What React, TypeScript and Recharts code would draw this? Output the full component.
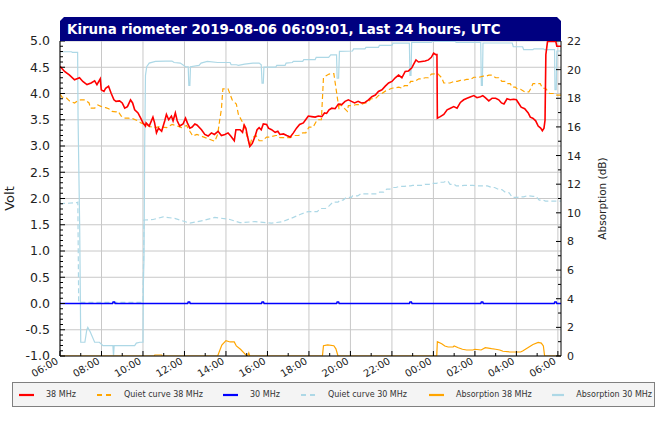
import React from "react";
import { LineChart, Line, XAxis, YAxis, CartesianGrid, Legend } from "recharts";

type Pt = [number, number];

// time axis: hours after 2019-08-05 06:00 UTC, plot ends at 06:09 next day
const hourTicks = Array.from({ length: 25 }, (_, i) => i);
const labeledHours = [0, 2, 4, 6, 8, 10, 12, 14, 16, 18, 20, 22, 24];
const hourLabels = ["06:00", "08:00", "10:00", "12:00", "14:00", "16:00", "18:00", "20:00", "22:00", "00:00", "02:00", "04:00", "06:00"];
const voltGrid = [-1, -0.5, 0, 0.5, 1, 1.5, 2, 2.5, 3, 3.5, 4, 4.5, 5];
const voltTicks = Array.from({ length: 61 }, (_, i) => Math.round((-1 + i * 0.1) * 10) / 10);
const dbTicks = Array.from({ length: 23 }, (_, i) => i);

// 38 MHz signal (Volt)
const mhz38: Pt[] = [
  [0, 4.52], [0.22, 4.42], [0.46, 4.35], [0.7, 4.26], [0.94, 4.3], [1.1, 4.23], [1.3, 4.17], [1.5, 4.2], [1.67, 4.24],
  [1.78, 4.17], [1.94, 4.28], [1.99, 4.07], [2.12, 4.04], [2.2, 4.1], [2.34, 4.14], [2.47, 4.0], [2.6, 3.88], [2.7, 3.85],
  [2.87, 3.86], [3.0, 3.82], [3.12, 3.72], [3.25, 3.75], [3.4, 3.88], [3.5, 3.82], [3.6, 3.69], [3.76, 3.63], [3.89, 3.53],
  [4.0, 3.44], [4.12, 3.38], [4.15, 3.44], [4.3, 3.38], [4.48, 3.55], [4.56, 3.44], [4.65, 3.25], [4.75, 3.34], [4.9, 3.28],
  [5.05, 3.48], [5.13, 3.6], [5.24, 3.5], [5.37, 3.57], [5.45, 3.48], [5.56, 3.63], [5.65, 3.48], [5.77, 3.38], [5.93, 3.42],
  [6.05, 3.53], [6.14, 3.44], [6.26, 3.34], [6.37, 3.36], [6.5, 3.42], [6.6, 3.4], [6.82, 3.31], [6.98, 3.22], [7.14, 3.19],
  [7.3, 3.25], [7.44, 3.22], [7.62, 3.28], [7.78, 3.2], [7.95, 3.22], [8.1, 3.25], [8.23, 3.19], [8.4, 3.1], [8.48, 3.31],
  [8.68, 3.31], [8.8, 3.26], [8.88, 3.4], [8.96, 3.34], [9.04, 3.18], [9.15, 2.99], [9.27, 3.05], [9.4, 3.18], [9.5, 3.31],
  [9.6, 3.35], [9.7, 3.31], [9.8, 3.42], [9.96, 3.41], [10.05, 3.34], [10.2, 3.31], [10.37, 3.26], [10.5, 3.28], [10.6, 3.22],
  [10.77, 3.23], [10.93, 3.2], [11.1, 3.17], [11.25, 3.25], [11.4, 3.34], [11.55, 3.41], [11.73, 3.44], [11.84, 3.5],
  [11.97, 3.57], [12.13, 3.56], [12.3, 3.55], [12.45, 3.57], [12.62, 3.56], [12.75, 3.63], [12.85, 3.62], [12.97, 3.69],
  [13.1, 3.72], [13.26, 3.71], [13.42, 3.8], [13.58, 3.79], [13.74, 3.85], [13.9, 3.88], [14.05, 3.85], [14.2, 3.82],
  [14.37, 3.85], [14.53, 3.82], [14.7, 3.83], [14.87, 3.88], [15.03, 3.94], [15.2, 3.97], [15.35, 4.04], [15.52, 4.07],
  [15.68, 4.14], [15.84, 4.2], [16.0, 4.23], [16.16, 4.3], [16.32, 4.35], [16.48, 4.3], [16.64, 4.42], [16.8, 4.43],
  [16.96, 4.49], [17.05, 4.56], [17.16, 4.64], [17.28, 4.6], [17.44, 4.61], [17.6, 4.62], [17.76, 4.64], [17.9, 4.69],
  [18.01, 4.77], [18.12, 4.74], [18.17, 4.74], [18.19, 3.53], [18.33, 3.56], [18.5, 3.6], [18.66, 3.69], [18.82, 3.72],
  [18.98, 3.75], [19.14, 3.72], [19.3, 3.83], [19.46, 3.88], [19.62, 3.91], [19.8, 3.94], [19.95, 3.96], [20.1, 3.92],
  [20.27, 3.94], [20.38, 3.96], [20.5, 3.92], [20.67, 3.86], [20.83, 3.91], [21.0, 3.91], [21.15, 3.88], [21.28, 3.82],
  [21.4, 3.8], [21.55, 3.9], [21.7, 3.88], [21.87, 3.89], [22.0, 3.88], [22.1, 3.82], [22.23, 3.74], [22.4, 3.71],
  [22.57, 3.63], [22.67, 3.55], [22.79, 3.53], [22.93, 3.48], [23.05, 3.38], [23.17, 3.34], [23.25, 3.29], [23.33, 3.34],
  [23.38, 3.49], [23.42, 4.74], [23.5, 4.99], [23.9, 4.99], [23.95, 4.9], [24.15, 4.9],
];

// quiet day curve 38 MHz (Volt)
const quiet38: Pt[] = [
  [0, 3.99], [0.1, 3.93], [0.3, 3.92], [0.45, 3.86], [0.7, 3.82], [0.85, 3.86], [1.0, 3.88], [1.2, 3.88], [1.4, 3.82],
  [1.47, 3.72], [1.67, 3.72], [1.82, 3.78], [2.0, 3.75], [2.2, 3.73], [2.35, 3.71], [2.5, 3.66], [2.7, 3.65], [2.8, 3.66],
  [2.95, 3.57], [3.1, 3.53], [3.3, 3.53], [3.5, 3.52], [3.75, 3.48], [3.9, 3.44], [4.1, 3.41], [4.35, 3.37], [4.6, 3.35],
  [4.78, 3.37], [4.9, 3.36], [5.15, 3.35], [5.4, 3.41], [5.6, 3.39], [5.85, 3.35], [6.1, 3.39], [6.26, 3.28], [6.4, 3.19],
  [6.6, 3.22], [6.8, 3.19], [7.0, 3.16], [7.2, 3.13], [7.46, 3.09], [7.6, 3.22], [7.7, 3.5], [7.78, 3.7], [7.85, 4.09],
  [8.1, 4.09], [8.3, 3.88], [8.5, 3.8], [8.6, 3.6], [8.8, 3.45], [8.9, 3.35], [9.15, 3.0], [9.25, 3.15], [9.45, 3.2],
  [9.6, 3.1], [9.75, 3.1], [9.96, 3.17], [10.1, 3.17], [10.4, 3.2], [10.5, 3.2], [10.6, 3.16], [11.1, 3.16], [11.3, 3.2],
  [11.5, 3.2], [11.7, 3.25], [11.85, 3.25], [12.0, 3.36], [12.2, 3.36], [12.4, 3.5], [12.6, 3.5], [12.7, 4.3], [12.8, 4.33],
  [12.97, 4.37], [13.2, 4.38], [13.45, 3.7], [13.5, 3.8], [13.85, 3.66], [13.9, 3.77], [14.1, 3.77], [14.3, 3.79],
  [14.5, 3.79], [14.7, 3.82], [14.8, 3.82], [15.0, 3.9], [15.2, 3.9], [15.35, 3.96], [15.7, 4.05], [16.0, 4.1], [16.33, 4.12],
  [16.5, 4.1], [16.6, 4.15], [16.8, 4.15], [16.9, 4.23], [17.1, 4.23], [17.3, 4.28], [17.45, 4.28], [17.6, 4.3], [17.76, 4.3],
  [17.9, 4.37], [18.2, 4.38], [18.4, 4.3], [18.5, 4.2], [18.8, 4.2], [19.0, 4.23], [19.15, 4.23], [19.3, 4.25], [19.45, 4.25],
  [19.6, 4.27], [19.8, 4.27], [19.95, 4.31], [20.2, 4.31], [20.4, 4.33], [20.55, 4.33], [20.67, 4.35], [20.83, 4.35],
  [21.0, 4.3], [21.15, 4.3], [21.3, 4.23], [21.45, 4.23], [21.55, 4.19], [21.7, 4.19], [21.8, 4.12], [21.95, 4.12],
  [22.05, 4.08], [22.2, 4.08], [22.4, 4.03], [22.6, 4.03], [22.7, 4.1], [22.8, 4.19], [23.15, 4.19], [23.25, 4.1], [23.4, 4.1],
  [23.6, 4.0], [23.85, 4.0], [23.95, 3.97], [24.15, 3.97],
];

// 30 MHz signal (Volt), flat with calibration blips
const mhz30: Pt[] = [
  [0, 0], [2.53, 0], [2.56, 0.03], [2.63, 0.03], [2.66, 0], [6.15, 0], [6.18, 0.03], [6.25, 0.03], [6.28, 0],
  [9.71, 0], [9.74, 0.03], [9.81, 0.03], [9.84, 0], [13.33, 0], [13.36, 0.03], [13.43, 0.03], [13.46, 0],
  [16.84, 0], [16.87, 0.03], [16.94, 0.03], [16.97, 0], [20.28, 0], [20.31, 0.03], [20.38, 0.03], [20.41, 0],
  [23.82, 0], [23.85, 0.03], [23.92, 0.03], [23.95, 0], [24.15, 0],
];

// quiet day curve 30 MHz (Volt)
const quiet30: Pt[] = [
  [0, 1.9], [0.8, 1.92], [0.86, 1.93], [0.9, 0.02], [4.0, 0.02], [4.05, 1.59], [4.49, 1.6], [4.97, 1.65], [5.53, 1.62],
  [6.26, 1.53], [6.9, 1.58], [7.46, 1.64], [8.19, 1.6], [8.67, 1.54], [9.4, 1.56], [10.2, 1.53], [10.73, 1.56], [11.25, 1.64],
  [11.6, 1.7], [11.95, 1.75], [12.4, 1.75], [12.55, 1.81], [12.8, 1.81], [12.95, 1.85], [13.15, 1.93], [13.4, 1.93],
  [13.5, 1.97], [13.65, 1.97], [13.8, 2.02], [14.05, 2.02], [14.1, 2.05], [14.35, 2.05], [14.5, 2.09], [15.25, 2.09],
  [15.4, 2.12], [15.6, 2.12], [15.75, 2.18], [15.9, 2.18], [16.05, 2.21], [16.2, 2.21], [16.35, 2.23], [16.6, 2.23],
  [16.75, 2.24], [16.9, 2.24], [17.0, 2.25], [17.45, 2.25], [17.6, 2.27], [17.8, 2.27], [17.95, 2.29], [18.15, 2.29],
  [18.3, 2.31], [18.5, 2.31], [18.6, 2.33], [18.7, 2.33], [18.8, 2.27], [19.0, 2.27], [19.1, 2.24], [19.3, 2.24],
  [19.5, 2.25], [19.9, 2.25], [20.1, 2.24], [20.6, 2.24], [20.8, 2.21], [20.95, 2.21], [21.15, 2.17], [21.3, 2.17],
  [21.5, 2.11], [21.65, 2.11], [21.8, 2.02], [22.05, 2.02], [22.15, 2.03], [22.35, 2.03], [22.5, 2.05], [22.6, 2.05],
  [22.8, 2.04], [22.95, 2.04], [23.1, 1.97], [23.3, 1.97], [23.4, 1.95], [24.15, 1.95],
];

// absorption 38 MHz (dB)
const abs38: Pt[] = [
  [0, 0], [4.55, 0], [4.57, 0.07], [4.9, 0.07], [4.92, 0], [7.6, 0], [7.8, 0.77], [8.0, 1.07], [8.2, 0.98], [8.4, 0.98],
  [8.5, 0.7], [8.7, 0.47], [8.9, 0.16], [9.0, 0], [9.05, 0], [9.1, 0.2], [9.15, 0], [12.65, 0], [12.7, 0.72], [12.9, 0.77],
  [13.2, 0.72], [13.3, 0.5], [13.4, 0], [18.16, 0], [18.19, 1.0], [18.4, 0.86], [18.55, 0.7], [18.71, 0.63], [18.95, 0.63],
  [19.0, 0.7], [19.2, 0.58], [19.4, 0.47], [19.6, 0.42], [19.9, 0.42], [20.0, 0.47], [20.3, 0.42], [20.5, 0.58],
  [20.8, 0.51], [21.0, 0.47], [21.2, 0.42], [21.35, 0.33], [21.7, 0.28], [22.2, 0.28], [22.3, 0.35], [22.55, 0.58],
  [22.8, 0.8], [23.05, 0.95], [23.2, 0.9], [23.3, 0.7], [23.36, 0], [24.15, 0],
];

// absorption 30 MHz (dB)
const abs30: Pt[] = [
  [0, 21.25], [0.55, 21.25], [0.6, 21.2], [0.85, 21.2], [0.87, 16.7], [0.95, 8.9], [1.0, 0.96], [1.2, 0.96], [1.29, 1.82],
  [1.34, 2.0], [1.46, 1.68], [1.67, 0.96], [1.9, 0.96], [2.07, 0.72], [2.55, 0.72], [2.58, 0], [2.61, 0.72], [3.6, 0.72],
  [3.68, 0.9], [3.85, 0.96], [4.0, 0.96], [4.02, 5.1], [4.05, 6.8], [4.08, 14.3], [4.12, 19.6], [4.18, 20.2], [4.3, 20.46],
  [4.6, 20.58], [5.1, 20.6], [5.4, 20.6], [5.5, 20.5], [5.8, 20.46], [6.05, 20.2], [6.18, 20.2], [6.21, 18.9], [6.26, 18.9],
  [6.29, 20.2], [6.7, 20.3], [6.8, 20.46], [7.1, 20.58], [7.6, 20.5], [8.2, 20.5], [8.25, 20.34], [8.5, 20.34], [8.6, 20.3],
  [8.9, 20.38], [9.3, 20.46], [9.6, 20.46], [9.7, 20.34], [9.74, 19.06], [9.8, 19.06], [9.83, 20.18], [10.4, 20.18],
  [10.45, 20.3], [10.85, 20.3], [10.9, 20.46], [11.2, 20.5], [11.25, 20.58], [11.7, 20.58], [11.75, 20.7], [12.3, 20.7],
  [12.35, 20.86], [12.95, 20.86], [13.05, 21.03], [13.33, 21.03], [13.36, 19.4], [13.43, 19.4], [13.47, 21.27], [14.1, 21.3],
  [14.15, 21.45], [14.7, 21.45], [14.75, 21.56], [15.35, 21.56], [15.4, 21.7], [16.0, 21.7], [16.05, 21.85], [16.84, 21.86],
  [16.87, 19.6], [16.92, 19.6], [16.95, 21.9], [17.9, 21.9], [17.95, 21.98], [19.05, 21.98], [19.1, 21.9], [20.28, 21.9],
  [20.31, 18.9], [20.36, 18.9], [20.39, 21.86], [21.8, 21.86], [21.85, 21.6], [22.3, 21.6], [22.35, 21.4], [22.8, 21.4],
  [22.85, 21.45], [23.3, 21.45], [23.35, 21.4], [23.84, 21.4], [23.86, 18.6], [23.92, 18.6], [23.95, 21.3], [24.15, 21.3],
];

const toRows = (pts: Pt[]) => pts.map(([t, v]) => ({ t, v }));

const series = [
  { key: "mhz38", name: "38 MHz", color: "#ff0000", dashed: false, axis: "v", width: 1.6, data: mhz38, legendW: 78 },
  { key: "quiet38", name: "Quiet curve 38 MHz", color: "#ffa500", dashed: true, axis: "v", width: 1.2, data: quiet38, legendW: 126 },
  { key: "mhz30", name: "30 MHz", color: "#0000ff", dashed: false, axis: "v", width: 1.5, data: mhz30, legendW: 78 },
  { key: "quiet30", name: "Quiet curve 30 MHz", color: "#add8e6", dashed: true, axis: "v", width: 1.2, data: quiet30, legendW: 128 },
  { key: "abs38", name: "Absorption 38 MHz", color: "#ffa500", dashed: false, axis: "db", width: 1.2, data: abs38, legendW: 123 },
  { key: "abs30", name: "Absorption 30 MHz", color: "#add8e6", dashed: false, axis: "db", width: 1.2, data: abs30, legendW: 100 },
];
const drawOrder = ["abs30", "quiet30", "abs38", "quiet38", "mhz30", "mhz38"];

const FONT = "'DejaVu Sans', Verdana, sans-serif";

const HourTick = ({ x, y, payload }: any) => {
  const idx = labeledHours.indexOf(payload.value);
  const major = idx >= 0;
  const ax = x - 1;
  const ay = y + 7;
  return (
    <g>
      <line x1={x} y1={y} x2={x} y2={y - (major ? 5 : 3)} stroke="#000" />
      {major && (
        <text x={ax} y={ay} textAnchor="end" transform={`rotate(-30 ${ax} ${ay})`} fontSize={10} fontFamily={FONT} fill="#222">
          {hourLabels[idx]}
        </text>
      )}
    </g>
  );
};

const VoltTick = ({ x, y, payload }: any) => {
  const v = payload.value;
  const major = Math.abs(v * 2 - Math.round(v * 2)) < 1e-6;
  return (
    <g>
      <line x1={x} y1={y} x2={x + (major ? 5 : 3)} y2={y} stroke="#000" />
      {major && (
        <text x={x - 10} y={y + 4.3} textAnchor="end" fontSize={12.5} fontFamily={FONT} fill="#222">
          {v.toFixed(1)}
        </text>
      )}
    </g>
  );
};

const DbTick = ({ x, y, payload }: any) => {
  const v = payload.value;
  const major = v % 2 === 0;
  return (
    <g>
      <line x1={x} y1={y} x2={x - (major ? 5 : 3)} y2={y} stroke="#000" />
      {major && (
        <text x={x + 6} y={y + 4} textAnchor="start" fontSize={11} fontFamily={FONT} fill="#222">
          {v}
        </text>
      )}
    </g>
  );
};

const AxisTitle = ({ viewBox, text, cx, size }: any) => {
  const cy = viewBox.y + viewBox.height / 2;
  return (
    <text x={cx} y={cy} transform={`rotate(-90 ${cx} ${cy})`} textAnchor="middle" dominantBaseline="central"
      fontSize={size} fontFamily={FONT} fill="#222">
      {text}
    </text>
  );
};

const LegendBox = () => (
  <div style={{
    display: "flex", alignItems: "center", height: 25, boxSizing: "border-box", border: "1px solid #808080",
    background: "#f4f4f4", paddingLeft: 6, fontFamily: FONT, fontSize: 8, color: "#333",
  }}>
    {series.map((s) => (
      <div key={s.key} style={{ display: "flex", alignItems: "center", width: s.legendW, flex: "none" }}>
        <svg width={15} height={4} style={{ display: "block" }}>
          <line x1={0} y1={2} x2={15} y2={2} stroke={s.color} strokeWidth={2.2} strokeDasharray={s.dashed ? "5 4" : undefined} />
        </svg>
        <span style={{ marginLeft: 12, whiteSpace: "nowrap" }}>{s.name}</span>
      </div>
    ))}
  </div>
);

export default function App() {
  return (
    <div style={{ position: "absolute", left: 0, top: 0, width: 670, height: 426, background: "#fff" }}>
      <LineChart width={670} height={426} margin={{ top: 41, right: 0, bottom: 40, left: 0 }}>
        <CartesianGrid yAxisId="v" stroke="#c8c8c8" horizontalValues={voltGrid} verticalValues={labeledHours} />
        {drawOrder.map((k) => {
          const s = series.find((x) => x.key === k)!;
          return (
            <Line
              key={s.key}
              yAxisId={s.axis}
              data={toRows(s.data)}
              dataKey="v"
              name={s.name}
              type="linear"
              stroke={s.color}
              strokeWidth={s.width}
              strokeDasharray={s.dashed ? "5 3" : undefined}
              dot={false}
              activeDot={false}
              isAnimationActive={false}
            />
          );
        })}
        <XAxis
          dataKey="t"
          type="number"
          domain={[0, 24.15]}
          ticks={hourTicks}
          interval={0}
          height={30}
          tickSize={0}
          tickMargin={0}
          tickLine={false}
          axisLine={{ stroke: "#000" }}
          tick={<HourTick />}
          allowDataOverflow
        />
        <YAxis
          yAxisId="v"
          orientation="left"
          type="number"
          domain={[-1, 5]}
          ticks={voltTicks}
          interval={0}
          width={60}
          tickSize={0}
          tickMargin={0}
          tickLine={false}
          axisLine={{ stroke: "#000" }}
          tick={<VoltTick />}
          allowDataOverflow
          label={<AxisTitle text="Volt" cx={9} size={13} />}
        />
        <YAxis
          yAxisId="db"
          orientation="right"
          type="number"
          domain={[0, 22]}
          ticks={dbTicks}
          interval={0}
          width={109}
          tickSize={0}
          tickMargin={0}
          tickLine={false}
          axisLine={{ stroke: "#000" }}
          tick={<DbTick />}
          allowDataOverflow
          label={<AxisTitle text="Absorption (dB)" cx={602} size={10.5} />}
        />
        <Legend
          layout="horizontal"
          verticalAlign="middle"
          align="center"
          wrapperStyle={{ left: 12, top: 382, width: 643, height: 25 }}
          content={() => <LegendBox />}
        />
      </LineChart>
      <div style={{
        position: "absolute", left: 60, top: 17, width: 501, height: 24, background: "#000080", color: "#fff",
        fontFamily: FONT, fontWeight: "bold", fontSize: 13.4, lineHeight: "25px", paddingLeft: 7, boxSizing: "border-box",
        clipPath: "polygon(4px 0, calc(100% - 4px) 0, 100% 4px, 100% 100%, 0 100%, 0 4px)", whiteSpace: "nowrap",
      }}>
        Kiruna riometer 2019-08-06 06:09:01, Last 24 hours, UTC
      </div>
    </div>
  );
}
